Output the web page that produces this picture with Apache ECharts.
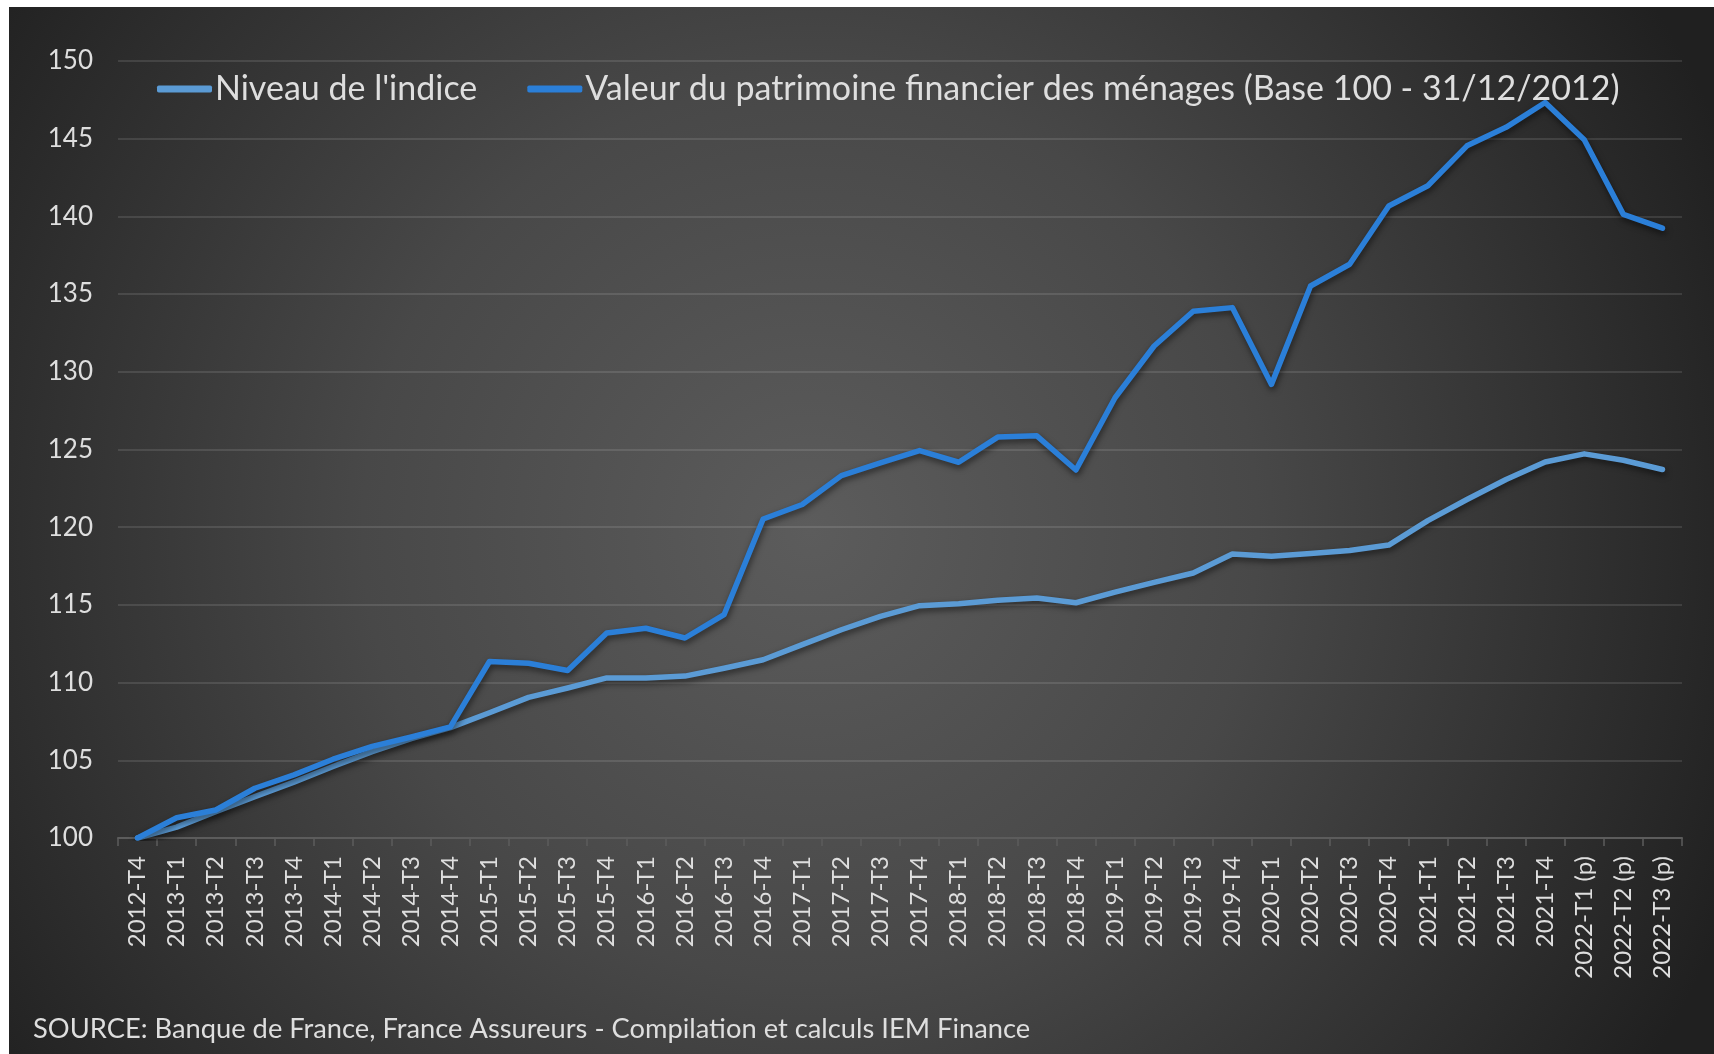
<!DOCTYPE html>
<html>
<head>
<meta charset="utf-8">
<script src="https://cdn.jsdelivr.net/npm/echarts@6/dist/echarts.min.js"></script>
<style>
html,body{margin:0;padding:0;background:#fff;}
#chart{width:1714px;height:1054px;}
</style>
</head>
<body>
<div id="chart"></div>
<script>
const categories = ['2012-T4','2013-T1','2013-T2','2013-T3','2013-T4','2014-T1','2014-T2','2014-T3','2014-T4',
  '2015-T1','2015-T2','2015-T3','2015-T4','2016-T1','2016-T2','2016-T3','2016-T4',
  '2017-T1','2017-T2','2017-T3','2017-T4','2018-T1','2018-T2','2018-T3','2018-T4',
  '2019-T1','2019-T2','2019-T3','2019-T4','2020-T1','2020-T2','2020-T3','2020-T4',
  '2021-T1','2021-T2','2021-T3','2021-T4','2022-T1 (p)','2022-T2 (p)','2022-T3 (p)'];
const niveauIndice = [100, 100.7, 101.7, 102.66, 103.6, 104.6, 105.56, 106.4, 107.1,
  108.06, 109.05, 109.65, 110.3, 110.3, 110.42, 110.92, 111.47,
  112.44, 113.4, 114.26, 114.95, 115.08, 115.3, 115.44, 115.14,
  115.82, 116.45, 117.05, 118.28, 118.13, 118.3, 118.5, 118.85,
  120.42, 121.78, 123.07, 124.2, 124.72, 124.31, 123.71];
const valeurPatrimoine = [100, 101.3, 101.8, 103.2, 104.06, 105.07, 105.9, 106.5, 107.15,
  111.36, 111.25, 110.78, 113.19, 113.5, 112.87, 114.37, 120.53,
  121.46, 123.32, 124.14, 124.93, 124.18, 125.8, 125.88, 123.68,
  128.33, 131.66, 133.9, 134.13, 129.19, 135.52, 136.92, 140.67,
  141.97, 144.54, 145.73, 147.33, 144.93, 140.13, 139.24];
const seriesNames = ["Niveau de l'indice", "Valeur du patrimoine financier des ménages (Base 100 - 31/12/2012)"];
const yTicks = {min: 100, max: 150, step: 5};
const sourceText = 'SOURCE: Banque de France, France Assureurs - Compilation et calculs IEM Finance';

const FONT = 'Lato, "Open Sans", sans-serif';
const TXT = '#dedede';
const chart = echarts.init(document.getElementById('chart'), null, {renderer: 'canvas'});

const shadow = {shadowColor: 'rgba(0,0,0,0.55)', shadowBlur: 6, shadowOffsetX: 1, shadowOffsetY: 3};

chart.setOption({
  backgroundColor: '#ffffff',
  animation: false,
  graphic: [
    {
      type: 'rect', z: -10, silent: true,
      shape: {x: 9, y: 7, width: 1705, height: 1047},
      style: {
        fill: new echarts.graphic.RadialGradient(0.47, 0.5, 0.95, [
          {offset: 0, color: '#5c5c5c'},
          {offset: 0.45, color: '#484848'},
          {offset: 1, color: '#202020'}
        ])
      }
    },
    {
      type: 'text', left: 33, top: 1016, silent: true,
      style: {text: sourceText, fill: TXT, font: '27.3px ' + FONT}
    }
  ],
  legend: {
    left: 152, top: 67,
    icon: 'roundRect',
    itemWidth: 55, itemHeight: 7, itemGap: 50,
    textStyle: {color: TXT, fontSize: 34, fontFamily: FONT, padding: [0,0,0,-2]},
    data: seriesNames
  },
  grid: {left: 118, right: 32, top: 61, bottom: 216, containLabel: false},
  xAxis: {
    type: 'category',
    data: categories,
    boundaryGap: true,
    axisLine: {lineStyle: {color: '#5c5c5c', width: 2}},
    axisTick: {show: true, length: 8, lineStyle: {color: '#5c5c5c', width: 1.5}},
    axisLabel: {rotate: 90, interval: 0, color: TXT, fontSize: 24, fontFamily: FONT, margin: 18}
  },
  yAxis: {
    type: 'value',
    min: yTicks.min, max: yTicks.max, interval: yTicks.step,
    axisLine: {show: false},
    axisTick: {show: false},
    axisLabel: {color: TXT, fontSize: 26, fontFamily: FONT, margin: 25},
    splitLine: {lineStyle: {color: 'rgba(255,255,255,0.11)', width: 2}}
  },
  series: [
    {
      name: seriesNames[0], type: 'line', data: niveauIndice,
      color: '#5b9bd5', symbol: 'none', smooth: false,
      lineStyle: Object.assign({color: '#5b9bd5', width: 5.5, cap: 'round', join: 'round'}, shadow)
    },
    {
      name: seriesNames[1], type: 'line', data: valeurPatrimoine,
      color: '#2b7fd8', symbol: 'none', smooth: false,
      lineStyle: Object.assign({color: '#2b7fd8', width: 5.5, cap: 'round', join: 'round'}, shadow)
    }
  ]
});
</script>
</body>
</html>
